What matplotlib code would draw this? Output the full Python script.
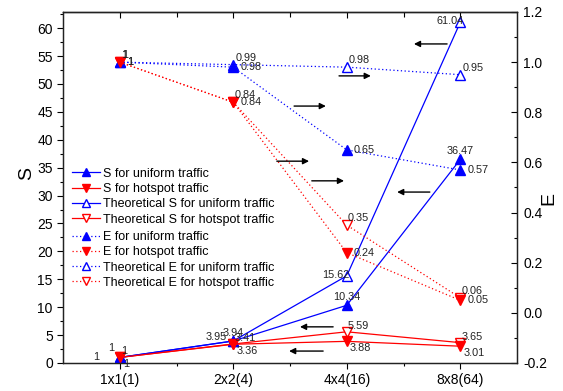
import matplotlib
matplotlib.use('Agg')
import matplotlib.pyplot as plt
from matplotlib.ticker import MultipleLocator, FixedLocator

plt.rcParams['font.family'] = ['Liberation Sans', 'DejaVu Sans']

categories = ["1x1(1)", "2x2(4)", "4x4(16)", "8x8(64)"]
s_uniform = [1, 3.94, 10.34, 36.47]
s_hotspot = [1, 3.36, 3.88, 3.01]
s_theo_uniform = [1, 3.95, 15.62, 61.04]
s_theo_hotspot = [1, 3.41, 5.59, 3.65]
e_uniform = [1, 0.98, 0.65, 0.57]
e_hotspot = [1, 0.84, 0.24, 0.05]
e_theo_uniform = [1, 0.99, 0.98, 0.95]
e_theo_hotspot = [1, 0.84, 0.35, 0.06]

names = ["S for uniform traffic", "S for hotspot traffic",
         "Theoretical S for uniform traffic", "Theoretical S for hotspot traffic",
         "E for uniform traffic", "E for hotspot traffic",
         "Theoretical E for uniform traffic", "Theoretical E for hotspot traffic"]

BLUE = '#0000ff'
RED = '#ff0000'

fig = plt.figure(figsize=(5.63, 3.91), dpi=100)
ax = fig.add_axes([63/563, 28/391, 454/563, 351/391])
ax2 = ax.twinx()

x = list(range(len(categories)))
dotted = (0, (1, 2))

# (values, axis, color, marker, filled, linestyle, label offset (dx, dy, ha), overrides)
series = [
    (s_uniform, ax, BLUE, '^', True, '-', (0, 8, 'center'), {0: (-9, 9, 'center')}),
    (s_hotspot, ax, RED, 'v', True, '-', (3, -7, 'left'), {}),
    (s_theo_uniform, ax, BLUE, '^', False, '-', (3, 1, 'right'), {0: (-20, 0, 'right'), 1: (-6, 4, 'right')}),
    (s_theo_hotspot, ax, RED, 'v', False, '-', (1, 6, 'left'), {}),
    (e_uniform, ax2, BLUE, '^', True, dotted, (7, 0, 'left'), {}),
    (e_hotspot, ax2, RED, 'v', True, dotted, (7, 0, 'left'), {}),
    (e_theo_uniform, ax2, BLUE, '^', False, dotted, (2, 7, 'left'), {}),
    (e_theo_hotspot, ax2, RED, 'v', False, dotted, (1, 7, 'left'), {}),
]

handles = []
for (vals, a, col, mk, filled, ls, off, over), name in zip(series, names):
    mfc = col if filled else 'white'
    ln, = a.plot(x, vals, color=col, lw=0.9, ls=ls, marker=mk, ms=7,
                 mfc=mfc, mec=col, mew=1.0, label=name, zorder=3 if filled else 2)
    handles.append(ln)
    for i, v in enumerate(vals):
        dx, dy, ha = over.get(i, off)
        a.annotate(f"{v:g}", (x[i], v), xytext=(dx, dy), textcoords='offset pixels',
                   ha=ha, va='center', fontsize=7.8, color='#222222', zorder=5)

ax.set_xlim(-0.5, 3.5)
ax.set_ylim(0, 62.9)
ax2.set_ylim(-0.2, 1.2)

ax.set_xticks(x)
ax.set_xticklabels(categories)
ax.xaxis.set_minor_locator(FixedLocator([0.5, 1.5, 2.5]))
ax.yaxis.set_major_locator(MultipleLocator(5))
ax.yaxis.set_minor_locator(MultipleLocator(2.5))
ax2.yaxis.set_minor_locator(MultipleLocator(0.1))
ax2.set_yticks([-0.2, 0.0, 0.2, 0.4, 0.6, 0.8, 1.0, 1.2])
ax2.set_yticklabels(["-0.2", "0.0", "0.2", "0.4", "0.6", "0.8", "1.0", "1.2"])

ax.tick_params(axis='x', which='major', direction='out', length=4.3, width=0.8,
               labelsize=10, top=False, pad=3)
ax.tick_params(axis='x', which='minor', direction='out', length=2.5, width=0.8, top=False)
ax.tick_params(axis='y', which='major', direction='out', length=4.3, width=0.8, labelsize=10, pad=3)
ax.tick_params(axis='y', which='minor', direction='out', length=2.5, width=0.8)
ax2.tick_params(axis='y', which='major', direction='in', length=4.3, width=0.8, labelsize=10, pad=4.5)
ax2.tick_params(axis='y', which='minor', direction='in', length=2.5, width=0.8)

# top axis ticks pointing inward
secx = ax.secondary_xaxis('top')
secx.set_xticks(x)
secx.set_xticklabels([])
secx.xaxis.set_minor_locator(FixedLocator([0.5, 1.5, 2.5]))
secx.tick_params(which='major', direction='in', length=4, width=0.8)
secx.tick_params(which='minor', direction='in', length=3.5, width=0.8)

for a in (ax, ax2):
    for sp in a.spines.values():
        sp.set_linewidth(0.9)
        sp.set_color('#222222')
secx.spines['top'].set_linewidth(0.9)

ax.set_ylabel("S", fontsize=14)
ax2.set_ylabel("E", fontsize=14)
ax.yaxis.set_label_coords(-0.062, 0.541)
ax2.yaxis.set_label_coords(1.051, 0.47)

# annotation arrows (axes fraction)
arrows = [((0.846, 0.909), (0.773, 0.909)),
          ((0.608, 0.818), (0.678, 0.818)),
          ((0.509, 0.732), (0.579, 0.732)),
          ((0.471, 0.575), (0.542, 0.575)),
          ((0.548, 0.519), (0.619, 0.519)),
          ((0.808, 0.487), (0.736, 0.487)),
          ((0.595, 0.103), (0.522, 0.103)),
          ((0.573, 0.034), (0.498, 0.034))]
for start, end in arrows:
    ax2.annotate('', xy=end, xytext=start, xycoords='axes fraction',
                 textcoords='axes fraction',
                 arrowprops=dict(arrowstyle='-|>', color='black', lw=1.0,
                                 mutation_scale=9, shrinkA=0, shrinkB=0))

leg_kw = dict(loc='upper left', frameon=False, fontsize=9, handlelength=2.24,
              handletextpad=0.25, labelspacing=0.26, borderpad=0, borderaxespad=0,
              markerscale=0.8)
leg1 = ax2.legend(handles=handles[:4], bbox_to_anchor=(0.0198, 0.556), **leg_kw)
ax2.add_artist(leg1)
leg2 = ax2.legend(handles=handles[4:], bbox_to_anchor=(0.0198, 0.376), **leg_kw)

fig.savefig('out.png', dpi=100)
